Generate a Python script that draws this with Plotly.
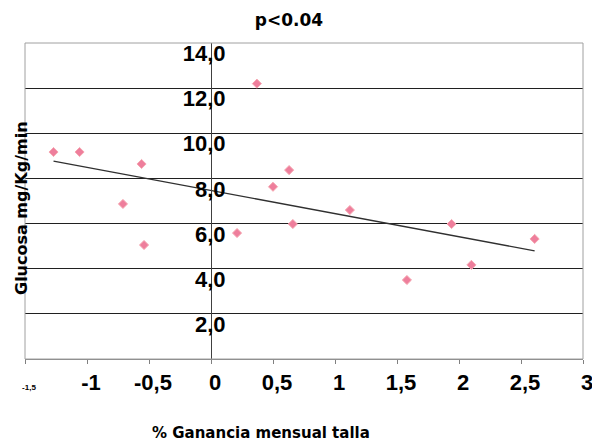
import plotly.graph_objects as go

# Data
ganancia = [-1.27, -1.06, -0.71, -0.56, -0.54, 0.21, 0.37, 0.50, 0.63, 0.66, 1.12, 1.58, 1.94, 2.10, 2.61]
glucosa = [9.17, 9.17, 6.87, 8.64, 5.05, 5.58, 12.2, 7.63, 8.37, 5.98, 6.60, 3.50, 5.98, 4.17, 5.32]

trend_x = [-1.27, 2.61]
trend_y = [8.77, 4.79]

x_tickvals = [-1.5, -1, -0.5, 0, 0.5, 1, 1.5, 2, 2.5, 3]
x_ticktext = ["<span style='font-size:8px'>-1,5</span>", "-1", "-0,5", "0", "0,5", "1", "1,5", "2", "2,5", "3"]
y_tickvals = [2, 4, 6, 8, 10, 12, 14]
y_ticktext = ["2,0", "4,0", "6,0", "8,0", "10,0", "12,0", "14,0"]

title_text = "p<0.04"
x_title = "% Ganancia mensual talla"
y_title = "Glucosa mg/Kg/min"

# page body has an 8px margin; lay out in page pixels and compensate
OFF = 8
W, H = 600 - OFF, 442 - OFF
PL, PR, PT, PB = 25, 583, 43, 359          # plot area in page pixels
L, R, T, B = PL - OFF, 600 - PR, PT - OFF, 442 - PB
plot_w, plot_h = PR - PL, PB - PT
x_min, x_max = -1.5, 3


def px_x(px):
    return (px - PL) / plot_w


def px_y(py):
    return (PB - py) / plot_h


FONT = "Liberation Sans, Arial, sans-serif"
WIDE = "DejaVu Sans, Verdana, sans-serif"

fig = go.Figure()
fig.add_trace(go.Scatter(
    x=trend_x, y=trend_y, mode="lines",
    line=dict(color="#303030", width=1.3), showlegend=False, hoverinfo="skip"))
fig.add_trace(go.Scatter(
    x=ganancia, y=glucosa, mode="markers",
    marker=dict(symbol="diamond", size=7, color="#EE7E9C",
                line=dict(color="#F6A6B0", width=1)),
    showlegend=False))

fig.update_layout(
    width=W, height=H,
    margin=dict(l=L, r=R, t=T, b=B, autoexpand=False),
    paper_bgcolor="white", plot_bgcolor="white",
    font=dict(family=FONT, color="black"),
    title=dict(text=title_text, x=(289 - OFF) / W, xanchor="center",
               y=1 - (20 - OFF) / H, yanchor="middle", automargin=False,
               font=dict(size=17, family=WIDE, weight="bold", color="black")),
    xaxis=dict(
        range=[x_min, x_max], tickmode="array", tickvals=x_tickvals, ticktext=x_ticktext,
        automargin=False,
        showgrid=False, zeroline=False, showline=True, linecolor="#808080", linewidth=1,
        ticks="outside", ticklen=4, tickcolor="#808080", tickwidth=1,
        ticklabelshift=4,
        tickfont=dict(size=22, family=FONT, weight="bold", color="black"),
    ),
    yaxis=dict(
        range=[0, 14], tickmode="array", tickvals=y_tickvals, ticktext=y_ticktext,
        automargin=False,
        anchor="free", position=(0 - x_min) / (x_max - x_min),
        showgrid=True, gridcolor="#202020", gridwidth=1,
        zeroline=False, showline=True, linecolor="#404040", linewidth=1,
        ticks="", ticklabelposition="outside bottom", ticklabelstandoff=-19,
        ticklabelshift=-5,
        tickfont=dict(size=22, family=FONT, weight="bold", color="black"),
    ),
    shapes=[dict(type="rect", xref="paper", yref="paper", x0=0, x1=1, y0=0, y1=1,
                 line=dict(color="#A0A0A0", width=1), layer="above")],
    annotations=[
        dict(text=x_title, xref="paper", yref="paper",
             x=px_x(261), y=px_y(433),
             xanchor="center", yanchor="middle", showarrow=False,
             font=dict(size=15, family=WIDE, weight="bold", color="black")),
        dict(text=y_title, xref="paper", yref="paper", textangle=-90,
             x=px_x(21), y=px_y(208),
             xanchor="center", yanchor="middle", showarrow=False,
             font=dict(size=16, family=WIDE, weight="bold", color="black")),
    ],
)

fig.write_html("out.html")
